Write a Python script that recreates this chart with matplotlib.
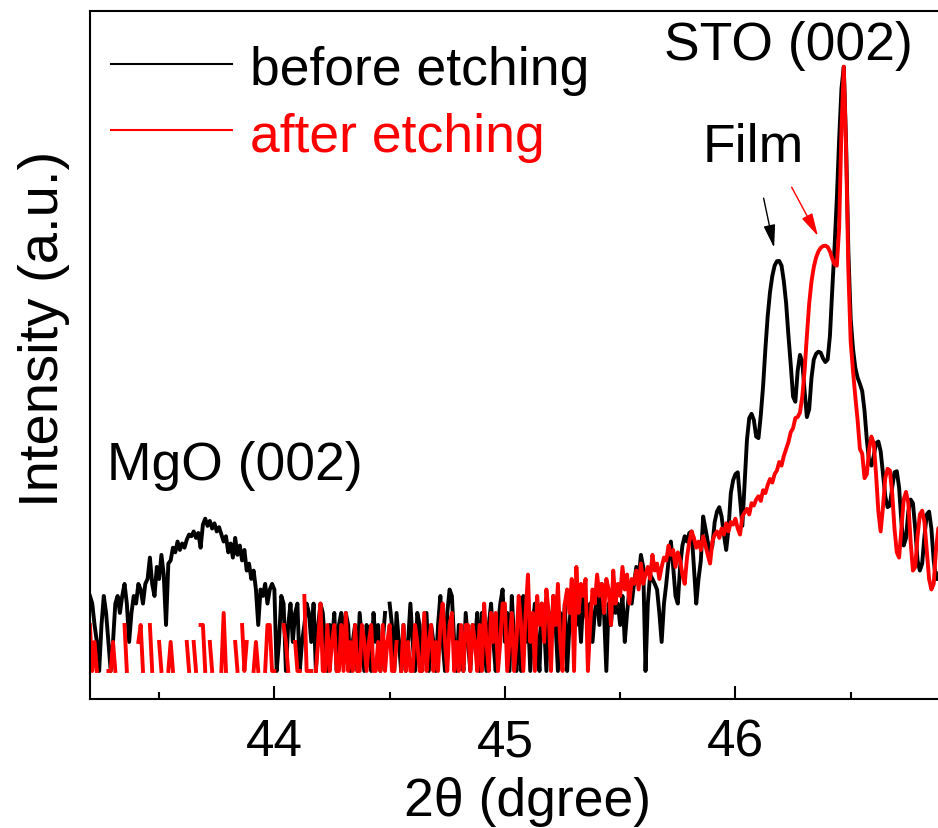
import numpy as np
import matplotlib

matplotlib.use("Agg")
import matplotlib.pyplot as plt
from matplotlib.ticker import NullLocator

plt.rcParams["font.family"] = ["Liberation Sans", "DejaVu Sans"]

# scan: 43.20 .. 46.89 deg, 0.01 deg step
SCAN_START, SCAN_STEP, SCAN_POINTS = 43.20, 0.01, 370
two_theta = np.round(SCAN_START + SCAN_STEP * np.arange(SCAN_POINTS), 2)

# counts per step, one row = 0.1 deg
before_etching = [
    6, 5, 3, 2, 1, 3, 6, 4, 2, 1,
    2, 5, 6, 4, 6, 8, 5, 2, 4, 6,
    5, 8, 7, 5, 8, 9, 15, 8, 6, 12,
    9, 16, 10, 3, 13, 14, 19, 17, 22, 18,
    21, 19, 23, 26, 25, 28, 24, 27, 19, 33,
    38, 32, 36, 30, 34, 28, 31, 26, 22, 25,
    17, 21, 15, 24, 16, 20, 14, 18, 11, 13,
    9, 11, 7, 3, 7, 6, 8, 5, 7, 8,
    7, 1, 2, 6, 5, 1, 3, 5, 2, 4,
    5, 1, 2, 3, 5, 4, 2, 5, 1, 3,
    5, 4, 2, 1, 3, 2, 4, 1, 3, 4,
    2, 4, 3, 1, 2, 3, 1, 4, 2, 1,
    3, 2, 1, 4, 2, 3, 1, 2, 4, 0,
    5, 3, 1, 4, 2, 1, 3, 1, 2, 5,
    2, 1, 4, 3, 1, 2, 4, 1, 3, 2,
    1, 3, 6, 2, 1, 4, 7, 6, 2, 1,
    3, 2, 1, 4, 2, 1, 3, 2, 4, 1,
    4, 2, 1, 3, 5, 2, 1, 3, 5, 7,
    2, 4, 1, 6, 2, 1, 3, 1, 6, 2,
    4, 1, 3, 5, 2, 1, 5, 3, 1, 4,
    2, 6, 3, 1, 4, 2, 5, 1, 3, 6,
    7, 3, 5, 2, 6, 4, 3, 5, 2, 4,
    6, 3, 8, 4, 1, 5, 3, 6, 4, 5,
    3, 6, 2, 4, 7, 5, 8, 12, 9, 16,
    12, 1, 5, 10, 9, 8, 7, 4, 2, 5,
    8, 14, 22, 12, 6, 5, 12, 20, 25, 22,
    27, 28, 12, 5, 9, 14, 40, 30, 22, 17,
    20, 35, 45, 50, 40, 26, 18, 30, 70, 95,
    110, 115, 60, 32, 90, 250, 420, 465, 400, 270,
    260, 450, 900, 2200, 4800, 8500, 12500, 16000, 17800, 17900,
    16000, 11000, 6500, 3000, 1500, 700, 620, 1300, 1900, 1600,
    800, 430, 520, 1100, 1700, 1950, 2050, 2000, 1750, 1600,
    1700, 3000, 9000, 25000, 80000, 330000, 1100000, 1850000, 300000, 22000,
    4500, 2200, 1400, 1100, 950, 800, 500, 250, 150, 135,
    170, 230, 240, 190, 110, 65, 50, 52, 80, 115,
    118, 80, 35, 20, 24, 45, 60, 55, 30, 14,
    11, 13, 25, 42, 45, 30, 14, 9, 9, 14,
]

after_etching = [
    3, 1, 2, 1, 0, 0, 0, 0, 1, 1,
    2, 1, 0, 0, 0, 3, 1, 0, 0, 0,
    0, 2, 3, 1, 0, 0, 3, 1, 0, 0,
    2, 1, 0, 0, 1, 2, 1, 0, 0, 0,
    0, 0, 2, 1, 0, 2, 1, 0, 3, 3,
    1, 0, 2, 1, 0, 0, 0, 1, 4, 1,
    0, 1, 0, 2, 1, 0, 3, 1, 2, 0,
    0, 1, 2, 1, 0, 0, 1, 3, 3, 1,
    1, 0, 1, 0, 3, 2, 1, 0, 0, 2,
    1, 1, 0, 6, 1, 1, 1, 0, 1, 2,
    5, 1, 1, 3, 1, 2, 3, 1, 1, 3,
    1, 4, 1, 2, 1, 3, 1, 1, 3, 2,
    1, 2, 3, 1, 1, 2, 1, 3, 1, 2,
    3, 1, 1, 2, 0, 1, 3, 1, 2, 1,
    1, 3, 2, 1, 1, 4, 1, 2, 3, 1,
    2, 1, 3, 5, 2, 1, 3, 4, 1, 2,
    1, 3, 1, 3, 3, 1, 3, 2, 1, 3,
    1, 5, 2, 1, 4, 2, 4, 1, 2, 5,
    5, 1, 2, 4, 1, 2, 6, 3, 1, 4,
    10, 2, 4, 1, 6, 3, 5, 2, 7, 4,
    1, 6, 3, 8, 2, 1, 5, 7, 4, 9,
    1, 12, 4, 8, 6, 9, 1, 3, 7, 5,
    10, 6, 8, 4, 9, 7, 3, 11, 5, 8,
    6, 12, 7, 10, 5, 9, 8, 11, 7, 13,
    8, 10, 12, 9, 16, 11, 13, 9, 12, 15,
    14, 20, 16, 18, 12, 17, 14, 10, 8, 15,
    22, 28, 24, 19, 22, 18, 25, 20, 16, 13,
    22, 26, 28, 24, 30, 26, 34, 28, 35, 33,
    38, 30, 26, 40, 44, 48, 42, 55, 52, 60,
    65, 58, 75, 70, 85, 98, 90, 110, 120, 147,
    135, 170, 200, 237, 300, 330, 420, 430, 480, 700,
    1300, 3000, 6500, 11000, 15500, 19500, 22500, 24500, 25500, 25800,
    25000, 22500, 19000, 16500, 16000, 40000, 420000, 1850000, 260000, 14000,
    2600, 1300, 700, 400, 200, 180, 100, 110, 200, 270,
    230, 110, 45, 28, 50, 100, 125, 120, 70, 30,
    17, 15, 30, 60, 72, 55, 22, 11, 12, 25,
    42, 46, 35, 18, 9, 7, 8, 18, 30, 32,
]

series_labels = ["before etching", "after etching"]
series_colors = ["black", "red"]

fig = plt.figure(figsize=(9.38, 8.29), dpi=100)
# right spine sits past the canvas edge on purpose
ax = fig.add_axes([0.0959, 0.1556, 0.9339, 0.8299])

for counts, color in zip([before_etching, after_etching], series_colors):
    ax.plot(two_theta, counts, color=color, lw=2.8)

# zero counts drop out of the log axis as gaps
ax.set_yscale("log", nonpositive="mask")
ax.set_xlim(43.2, 47.0)
ax.set_ylim(0.512, 7.0e6)
ax.yaxis.set_major_locator(NullLocator())
ax.yaxis.set_minor_locator(NullLocator())

ax.set_xticks([44, 45, 46])
ax.set_xticks([43.5, 44.5, 45.5, 46.5], minor=True)
ax.tick_params(axis="x", which="major", direction="in", length=9.5, width=1.5,
               labelsize=37, pad=13)
ax.tick_params(axis="x", which="minor", direction="in", length=5, width=1.5)
for sp in ax.spines.values():
    sp.set_linewidth(1.5)

ax.set_xlabel("2\u03b8 (dgree)", fontsize=38.5)
ax.xaxis.set_label_coords(0.499, -0.112)
ax.set_ylabel("Intensity (a.u.)", fontsize=40.5)
ax.yaxis.set_label_coords(-0.023, 0.539)

# hand-placed legend
for (y_line, y_text), label, color in zip([(0.923, 0.894), (0.827, 0.797)],
                                          series_labels, series_colors):
    ax.plot([0.024, 0.162], [y_line, y_line], color=color, lw=1.5,
            transform=ax.transAxes, clip_on=False)
    ax.text(0.183, y_text, label, color=color, fontsize=38.5,
            va="baseline", ha="left", transform=ax.transAxes)

ax.text(0.797, 0.930, "STO (002)", fontsize=38.5, ha="center", va="baseline",
        transform=ax.transAxes)
ax.text(0.757, 0.782, "Film", fontsize=38.5, ha="center", va="baseline",
        transform=ax.transAxes)
ax.text(0.165, 0.320, "MgO (002)", fontsize=38.5, ha="center", va="baseline",
        transform=ax.transAxes)

arrow_style = "-|>,head_length=0.7,head_width=0.18"
ax.annotate("", xy=(0.781, 0.656), xytext=(0.769, 0.728),
            xycoords="axes fraction", textcoords="axes fraction",
            arrowprops=dict(arrowstyle=arrow_style, color="black", lw=1.0,
                            mutation_scale=20, shrinkA=0, shrinkB=0))
ax.annotate("", xy=(0.831, 0.673), xytext=(0.801, 0.744),
            xycoords="axes fraction", textcoords="axes fraction",
            arrowprops=dict(arrowstyle=arrow_style, color="red", lw=1.0,
                            mutation_scale=20, shrinkA=0, shrinkB=0))

fig.savefig("out.png", dpi=100)
